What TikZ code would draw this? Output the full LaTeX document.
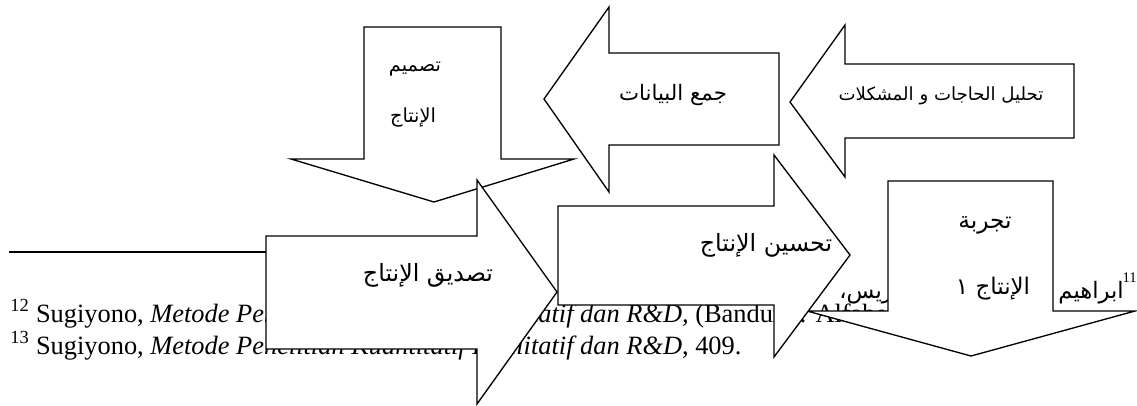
\documentclass[tikz,border=0pt]{standalone}
\usepackage{fontspec}
\setmainfont{Liberation Serif}
\newfontfamily\arabicfont[Script=Arabic]{DejaVu Sans}
\TeXXeTstate=1
\begin{document}
\begin{tikzpicture}[x=0.75pt,y=-0.75pt,
  blockarrow/.style={draw=black,fill=white,line width=1pt,line join=miter},
  fntext/.style={anchor=base west,inner sep=0pt,font=\fontsize{19.8}{24}\selectfont},
  artext/.style={inner sep=0pt,font=\arabicfont\fontsize{#1}{#1}\selectfont},
  artext/.default=15]
\useasboundingbox (0,0) rectangle (1137,405);
\fill[white] (0,0) rectangle (1137,405);
% background page text (footnotes)
\draw[line width=1pt] (9,252) -- (300,252);
\node[fntext] (fn12) at (10,322) {\textsuperscript{12} Sugiyono, \textit{Metode Penelitian Kuantitatif Kualitatif dan R\&D,} (Bandung: Alfabeta,};
\node[fntext] (fn13) at (10,354) {\textsuperscript{13} Sugiyono, \textit{Metode Penelitian Kuantitatif Kualitatif dan R\&D}, 409.};
\node[anchor=base east,inner sep=0pt,font=\fontsize{11}{11}\selectfont] (fn11num) at (1137,282) {11};
\node[artext=17,anchor=base east] (fn11a) at (1124,298) {\beginR ابراهيم\endR};
\node[artext=17,anchor=base west] (fn11b) at (839,298) {\beginR إدريس،\endR};
% block arrows
\draw[blockarrow] (364,27) -- (501,27) -- (501,159) -- (574,159) -- (434,202) -- (291,159) -- (364,159) -- cycle;
\draw[blockarrow] (779,53) -- (779,145) -- (609,145) -- (609,192) -- (544,99) -- (609,7) -- (609,53) -- cycle;
\draw[blockarrow] (1074,64) -- (1074,138) -- (845,138) -- (845,177) -- (790,102) -- (845,25) -- (845,64) -- cycle;
\draw[blockarrow] (888,181) -- (1053,181) -- (1053,311) -- (1135,311) -- (971,356) -- (807,311) -- (888,311) -- cycle;
\draw[blockarrow] (558,206) -- (774,206) -- (774,155) -- (850,255) -- (774,357) -- (774,305) -- (558,305) -- cycle;
\draw[blockarrow] (266,236) -- (477,236) -- (477,180) -- (557,292) -- (477,404) -- (477,349) -- (266,349) -- cycle;
% labels
\node[artext=14.5] (t1a) at (415,69) {\beginR تصميم\endR};
\node[artext=14.5] (t1b) at (413,118) {\beginR الإنتاج\endR};
\node[artext=16] (t2) at (673,95) {\beginR جمع البيانات\endR};
\node[artext=13.6] (t3) at (941,96) {\beginR تحليل الحاجات و المشكلات\endR};
\node[artext=17.5] (t4a) at (985,225) {\beginR تجربة\endR};
\node[artext=17.2] (t4b) at (993,289) {\beginR الإنتاج ١\endR};
\node[artext=17.8] (t5) at (766,245) {\beginR تحسين الإنتاج\endR};
\node[artext=17.8] (t6) at (428,275) {\beginR تصديق الإنتاج\endR};
\end{tikzpicture}
\end{document}
